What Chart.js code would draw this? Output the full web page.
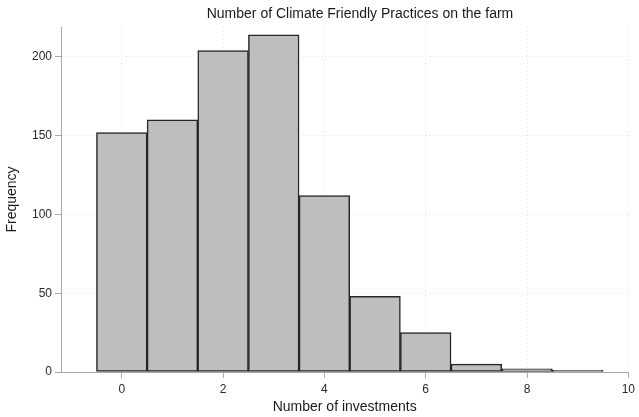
<!DOCTYPE html>
<html>
<head>
<meta charset="utf-8">
<script src="https://cdn.jsdelivr.net/npm/chart.js@4/dist/chart.umd.min.js"></script>
<style>
  html, body { margin: 0; padding: 0; background: #fff; }
  .canva { width: 639px; height: 417px; }
</style>
</head>
<body>
<div class="canva"><canvas id="chart"></canvas></div>
<script>
// histogram bins (number of investments) and their frequencies
const investments = [0, 1, 2, 3, 4, 5, 6, 7, 8, 9];
const frequency = [152, 160, 204, 214, 112, 48, 25, 5, 2, 1];
const xTicks = [0, 2, 4, 6, 8, 10];
const yTicks = [0, 50, 100, 150, 200];

const chartTitle = 'Number of Climate Friendly Practices on the farm';

// title is centred a bit right of the canvas middle, so draw it by hand
const titlePlugin = {
  id: 'stataTitle',
  afterDraw(chart) {
    const ctx = chart.ctx;
    ctx.save();
    ctx.font = '14px "Liberation Sans", Arial, sans-serif';
    ctx.fillStyle = '#1a1a1a';
    ctx.textAlign = 'center';
    ctx.textBaseline = 'middle';
    ctx.fillText(chartTitle, 360, 14);
    ctx.restore();
  }
};

Chart.defaults.font.family = '"Liberation Sans", Arial, sans-serif';
Chart.defaults.color = '#2a2a2a';

const ctx = document.getElementById('chart').getContext('2d');
new Chart(ctx, {
  type: 'bar',
  data: {
    datasets: [{
      label: 'Frequency',
      data: investments.map((v, i) => ({ x: v, y: frequency[i] })),
      backgroundColor: '#bebebe',
      borderColor: '#262626',
      borderWidth: 1.5,
      borderSkipped: false,
      barPercentage: 1,
      categoryPercentage: 1
    }]
  },
  options: {
    responsive: true,
    maintainAspectRatio: false,
    animation: false,
    layout: { padding: { top: 27, right: 6, left: 0, bottom: 0 } },
    plugins: {
      legend: { display: false },
      tooltip: { enabled: false }
    },
    scales: {
      x: {
        type: 'linear',
        offset: false,
        min: -1.2,
        max: 10,
        afterBuildTicks: (scale) => { scale.ticks = xTicks.map(v => ({ value: v })); },
        afterFit: (scale) => { scale.height = 45; },
        grid: {
          offset: false,
          color: '#e2e2e2',
          tickColor: '#a8a8a8',
          tickLength: 6,
          tickBorderDash: []
        },
        border: { display: true, color: '#a8a8a8', width: 1, dash: [1, 3] },
        ticks: { font: { size: 12 }, padding: 4, maxRotation: 0 },
        title: {
          display: true,
          text: 'Number of investments',
          font: { size: 14 },
          color: '#1a1a1a',
          padding: { top: 0, bottom: 1 }
        }
      },
      y: {
        min: 0,
        max: 219,
        afterBuildTicks: (scale) => { scale.ticks = yTicks.map(v => ({ value: v })); },
        afterFit: (scale) => { scale.width = 61; },
        grid: {
          color: '#e2e2e2',
          tickColor: '#a8a8a8',
          tickLength: 6,
          tickBorderDash: []
        },
        border: { display: true, color: '#a8a8a8', width: 1, dash: [1, 3] },
        ticks: { font: { size: 12 }, padding: 3 },
        title: {
          display: true,
          text: 'Frequency',
          font: { size: 14 },
          color: '#1a1a1a',
          padding: { top: 4, bottom: 0 }
        }
      }
    }
  },
  plugins: [titlePlugin]
});
</script>
</body>
</html>
